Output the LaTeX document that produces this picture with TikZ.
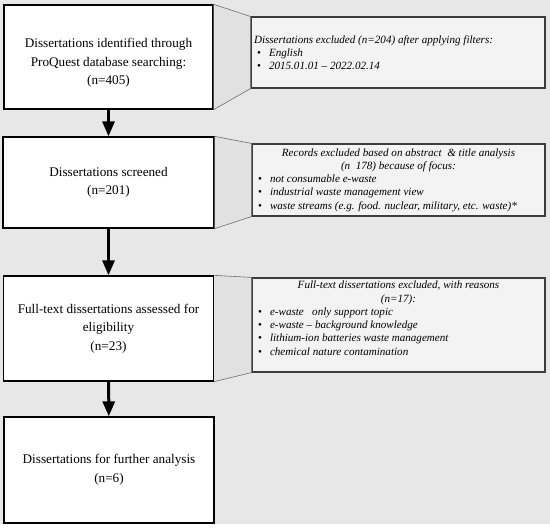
\documentclass[tikz,border=0pt]{standalone}
\usepackage{fontspec}
\setmainfont{Liberation Serif}
\usetikzlibrary{arrows.meta}
\definecolor{bggray}{RGB}{231,231,231}
\definecolor{boxgray}{RGB}{243,243,243}
\definecolor{funnelgray}{RGB}{225,225,225}
\definecolor{edgegray}{RGB}{60,60,60}
\definecolor{linkgray}{RGB}{110,110,110}
\newcommand{\exitem}[1]{\par\noindent\hspace*{3pt}\makebox[12pt][l]{\upshape\textbullet}#1}
\tikzset{every picture/.style={line width=0.75pt}}
\tikzset{
	stepbox/.style={draw=black, line width=1.3pt, fill=white, align=center, inner sep=0pt,
		font=\fontsize{13.2}{18.5}\selectfont},
	exclbox/.style={draw=edgegray, line width=1.2pt, fill=boxgray, inner sep=3pt,
		font=\fontsize{11.1}{13.3}\selectfont\itshape},
	flowarrow/.style={line width=3pt, -{Triangle[length=15pt,width=12pt]}},
	linkline/.style={draw=linkgray, line width=0.6pt}}

\begin{document}
\begin{tikzpicture}[x=1pt,y=1pt,yscale=-1,xscale=1]
	%set diagram left start at 0, and has height of 528
	\useasboundingbox (0,0) rectangle (550,528);
	\fill[bggray] (0,0) rectangle (550,524);

	% Flow boxes
	\node[stepbox, minimum width=209pt, minimum height=104pt] (found) at (108.5,57) {\rule{0pt}{21pt}Dissertations identified through\\ProQuest database searching:\\(n=405)};
	\node[stepbox, minimum width=211pt, minimum height=91pt] (screened) at (108.5,182.5) {Dissertations screened\\(n=201)};
	\node[stepbox, minimum width=210pt, minimum height=105pt] (fulltext) at (108.5,328.5) {Full-text dissertations assessed for\\eligibility\\(n=23)};
	\node[stepbox, minimum width=210pt, minimum height=106pt] (final) at (109,470) {Dissertations for further analysis\\(n=6)};

	% Exclusion boxes
	\node[exclbox] (exfilter) at (398,52.5) {\begin{minipage}[c][65pt][c]{288pt}
		Dissertations excluded (n=204) after applying filters:
		\exitem{English}
		\exitem{2015.01.01 -- 2022.02.14}
		\end{minipage}};
	\node[exclbox] (exabstract) at (398.5,180) {\begin{minipage}[c][66pt][c]{287pt}
		{\centering Records excluded based on abstract\ \ \& title analysis\\(n\ \ 178) because of focus:\par}
		\exitem{not consumable e-waste}
		\exitem{industrial waste management view}
		\exitem{waste streams (e.g. food. nuclear, military, etc. waste)*}
		\end{minipage}};
	\node[exclbox] (exfull) at (398.5,325) {\begin{minipage}[c][88pt][t]{287pt}
		{\centering Full-text dissertations excluded, with reasons\\(n=17):\par}
		\exitem{e-waste\ \ \ only support topic}
		\exitem{e-waste -- background knowledge}
		\exitem{lithium-ion batteries waste management}
		\exitem{chemical nature contamination}
		\end{minipage}};

	% Funnels between boxes
	\foreach \src/\dst in {found/exfilter, screened/exabstract, fulltext/exfull}{
		\fill[funnelgray] (\src.north east) -- (\dst.north west) -- (\dst.south west) -- (\src.south east) -- cycle;
		\draw[linkline] (\src.north east) -- (\dst.north west);
		\draw[linkline] (\src.south east) -- (\dst.south west);
	}

	% Arrows
	\draw[flowarrow] (found) -- (screened);
	\draw[flowarrow] (screened) -- (fulltext);
	\draw[flowarrow] (fulltext) -- (final);

\end{tikzpicture}
\end{document}
